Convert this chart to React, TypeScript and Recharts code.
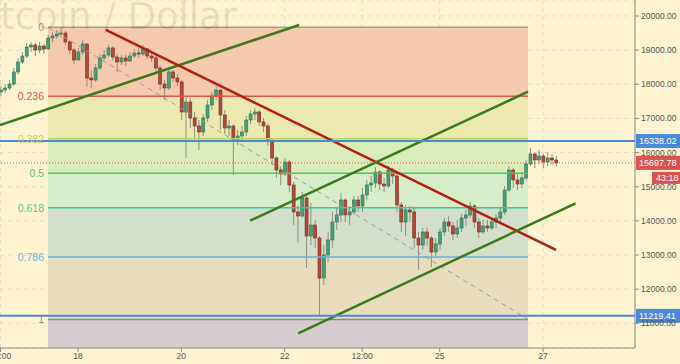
import {
  ComposedChart,
  Bar,
  XAxis,
  YAxis,
  CartesianGrid,
  ReferenceLine,
  ReferenceArea,
} from 'recharts'

// 2h candles, time in days of the month
const START_DAY = 16.5
const CANDLE_DAYS = 1 / 12
const FIRST_OPEN = 17774

const CLOSES = [
  17833, 17891, 18008, 18360, 18653, 18828, 19092, 19150, 19004, 19121,
  19033, 19355, 19414, 19472, 19502, 19238, 19004, 18711, 18945, 19180,
  18184, 18126, 18477, 18770, 18858, 19063, 18799, 18653, 18770, 18682,
  18828, 18916, 18887, 19033, 18828, 18770, 18477, 18008, 17891, 18360,
  18184, 18067, 17189, 17481, 17013, 16779, 16603, 17013, 17394, 17657,
  17833, 17101, 16720, 16779, 16369, 16486, 16603, 16954, 17130, 17189,
  16896, 16779, 16369, 15842, 15490, 15373, 15725, 15051, 14261, 14144,
  14671, 13558, 13880, 13499, 12328, 13002, 13441, 13968, 14173, 14612,
  14173, 14261, 14612, 14436, 14758, 15051, 15110, 15432, 15080, 15022,
  15490, 15315, 14466, 13968, 14319, 14261, 13499, 13294, 13675, 13499,
  13089, 13324, 13675, 13968, 13851, 13617, 13792, 14085, 14173, 14436,
  13968, 13675, 13851, 13792, 13968, 14085, 14261, 14905, 15490, 15198,
  15080, 15256, 15666, 15959, 15783, 15900, 15725, 15842, 15783, 15697.78,
]

const HIGHS = [
  17950, 18008, 18126, 18477, 18770, 18945, 19209, 19238, 19209, 19238,
  19180, 19443, 19531, 19590, 19678, 19560, 19297, 19063, 19063, 19297,
  19180, 18418, 18594, 18887, 19004, 19150, 19121, 18887, 18858, 18858,
  18945, 19033, 19063, 19150, 19063, 18945, 18858, 18535, 18126, 18477,
  18418, 18301, 18126, 17657, 17599, 17189, 16954, 17130, 17540, 17774,
  17950, 17833, 17247, 16954, 16837, 16662, 16779, 17071, 17247, 17306,
  17247, 17013, 16837, 16427, 15900, 15607, 15842, 15783, 15139, 14466,
  14846, 14729, 14524, 14026, 13558, 13294, 13675, 14261, 14378, 14817,
  14671, 14436, 14729, 14729, 14963, 15198, 15315, 15578, 15490, 15256,
  15607, 15549, 15373, 14553, 14466, 14436, 14378, 13675, 13792, 13792,
  13558, 13499, 13792, 14085, 14144, 13968, 14026, 14202, 14319, 14553,
  14495, 14085, 14026, 14026, 14085, 14202, 14378, 15022, 15607, 15549,
  15373, 15432, 15783, 16135, 16017, 16076, 15959, 16017, 15959, 15900,
]

const LOWS = [
  17657, 17745, 17833, 17950, 18272, 18594, 18770, 18945, 18828, 18916,
  18887, 19004, 19238, 19326, 19355, 19150, 18887, 18594, 18770, 18858,
  17921, 17891, 18067, 18418, 18711, 18799, 18711, 18360, 18565, 18535,
  18653, 18770, 18770, 18828, 18740, 18653, 18360, 17833, 17540, 17833,
  18067, 17950, 16954, 15842, 16720, 16427, 16076, 16486, 16896, 17247,
  17540, 16662, 16544, 16486, 15344, 16222, 16369, 16486, 16837, 16954,
  16779, 16603, 16193, 15637, 15256, 15051, 15315, 14846, 13880, 13353,
  14085, 12621, 13294, 13207, 11219, 12123, 12797, 13207, 13734, 13968,
  13968, 13880, 14173, 14261, 14261, 14612, 14846, 14963, 14905, 14846,
  14963, 15080, 14261, 13675, 13558, 13968, 13207, 12562, 13148, 13265,
  12650, 12972, 13148, 13558, 13675, 13441, 13499, 13675, 13851, 14085,
  13792, 13499, 13617, 13675, 13734, 13792, 13968, 14173, 14846, 14963,
  14905, 14963, 15198, 15607, 15549, 15666, 15549, 15607, 15637, 15607,
]

const X_DOMAIN = [16.49, 28.78]
const Y_DOMAIN = [10278, 20468]
const X_TICKS = [16.5, 18, 20, 22, 23.5, 25, 27]
const Y_TICKS = [11000, 12000, 13000, 14000, 15000, 16000, 17000, 18000, 19000, 20000]

// fibonacci retracement
const FIB_START = 17.42
const FIB_END = 26.71
const FIB_RATIOS = ['0', '0.236', '0.382', '0.5', '0.618', '0.786', '1']
const FIB_PRICES = [19670, 17651, 16402, 15392, 14383, 12946, 11115]

// drawn trend lines, [day, price]
const TREND_UPPER_LEFT = [[16.49, 16808], [22.28, 19736]]
const TREND_RED = [[18.54, 19590], [27.25, 13148]]
const CHANNEL_UPPER = [[21.33, 14006], [26.71, 17783]]
const CHANNEL_LOWER = [[22.26, 10709], [27.63, 14515]]
const FIB_DIAGONAL = [[FIB_START, 19670], [FIB_END, 11115]]

const LEVEL_HIGH = 16338.02
const LEVEL_LOW = 11219.41
const LAST_PRICE = 15697.78
const COUNTDOWN = '43:18'

const FIB_LINE_COLORS = ['#a39d92', '#e2574b', '#b9d760', '#52c45a', '#3fc9a2', '#66b3dc', '#8c8a88']
const FIB_BAND_COLORS = ['#f5c9ab', '#ebe9b0', '#dbecbb', '#d7ecc9', '#d4dfcb', '#e8dcbf']
const BELOW_BAND = '#d6ccd0'
const BG = '#fff4d2'
const FONT = '"Liberation Sans", Arial, sans-serif'

const candles = CLOSES.map((close, i) => ({
  time: START_DAY + i * CANDLE_DAYS,
  open: i === 0 ? FIRST_OPEN : CLOSES[i - 1],
  close,
  high: HIGHS[i],
  low: LOWS[i],
}))

const seg = (pts: number[][]) => pts.map(([x, y]) => ({ x, y }))

function Candle(props: any) {
  const { x, y, width, height, payload } = props
  if (!payload) return null
  const top = Math.min(y, y + height)
  const bottom = Math.max(y, y + height)
  const span = payload.high - payload.low
  const toY = (v: number) => (span === 0 ? top : top + ((payload.high - v) / span) * (bottom - top))
  const cx = x + width / 2
  const yo = toY(payload.open)
  const yc = toY(payload.close)
  const up = payload.close >= payload.open
  return (
    <g>
      <line x1={cx} x2={cx} y1={top} y2={bottom} stroke="#8f8f86" strokeWidth={1} />
      <rect
        x={cx - 1.5}
        y={Math.min(yo, yc)}
        width={3}
        height={Math.max(1, Math.abs(yo - yc))}
        fill={up ? '#47a078' : '#b4483a'}
        stroke={up ? '#2f6f52' : '#7d2c22'}
        strokeWidth={0.6}
      />
    </g>
  )
}

const priceTag = (text: string, color: string, extra?: string) => (props: any) => {
  const vb = props.viewBox
  if (!vb) return null
  const x = vb.x + vb.width
  const y = vb.y
  return (
    <g>
      <rect x={x + 1} y={y - 7} width={44} height={14} fill={color} />
      <text x={x + 4} y={y} dominantBaseline="central" fill="#fff" fontSize={9} fontFamily={FONT}>
        {text}
      </text>
      {extra && (
        <>
          <rect x={x + 17} y={y + 9} width={28} height={12} fill={color} />
          <text x={x + 21} y={y + 15} dominantBaseline="central" fill="#fff" fontSize={9} fontFamily={FONT}>
            {extra}
          </text>
        </>
      )}
    </g>
  )
}

export default function App() {
  return (
    <div style={{ position: 'fixed', left: 0, top: 0, width: 680, height: 364, background: BG, fontFamily: FONT }}>
      <ComposedChart width={680} height={364} data={candles} margin={{ top: 0, right: 0, bottom: 0, left: 0 }}>
        <CartesianGrid strokeDasharray="4 4" stroke="#e4dcc6" />
        {FIB_BAND_COLORS.map((c, i) => (
          <ReferenceArea
            key={'band' + i}
            x1={FIB_START}
            x2={FIB_END}
            y1={FIB_PRICES[i + 1]}
            y2={FIB_PRICES[i]}
            fill={c}
            fillOpacity={1}
            strokeWidth={0}
            ifOverflow="hidden"
          />
        ))}
        <ReferenceArea
          x1={FIB_START}
          x2={FIB_END}
          y1={Y_DOMAIN[0]}
          y2={FIB_PRICES[6]}
          fill={BELOW_BAND}
          fillOpacity={1}
          strokeWidth={0}
          ifOverflow="hidden"
        />
        <XAxis
          type="number"
          dataKey="time"
          domain={X_DOMAIN}
          ticks={X_TICKS}
          interval={0}
          allowDataOverflow
          height={16}
          tickFormatter={(v: number) => (Number.isInteger(v) ? String(v) : '12:00')}
          tick={{ fontSize: 8.5, fill: '#555' }}
          tickSize={4}
          tickMargin={1}
          stroke="#8a8a8a"
        />
        <YAxis
          orientation="right"
          domain={Y_DOMAIN}
          ticks={Y_TICKS}
          allowDataOverflow
          width={45}
          tickFormatter={(v: number) => v.toFixed(2)}
          tick={{ fontSize: 8.5, fill: '#555' }}
          tickSize={4}
          tickMargin={2}
          stroke="#8a8a8a"
        />
        {FIB_PRICES.map((p, i) => (
          <ReferenceLine
            key={'fib' + i}
            segment={[{ x: FIB_START, y: p }, { x: FIB_END, y: p }]}
            stroke={FIB_LINE_COLORS[i]}
            strokeWidth={1.5}
            ifOverflow="visible"
            label={{ value: FIB_RATIOS[i], position: 'left', offset: 4, fill: FIB_LINE_COLORS[i], fontSize: 10.5, fontFamily: FONT }}
          />
        ))}
        <ReferenceLine segment={seg(FIB_DIAGONAL)} stroke="#9a9a96" strokeDasharray="5 4" ifOverflow="hidden" />
        <Bar dataKey={(d: any) => [d.low, d.high]} barSize={3} shape={<Candle />} isAnimationActive={false} />
        <ReferenceLine segment={seg(TREND_UPPER_LEFT)} stroke="#3d7a1c" strokeWidth={2.5} ifOverflow="hidden" />
        <ReferenceLine segment={seg(TREND_RED)} stroke="#b21f10" strokeWidth={2.5} ifOverflow="hidden" />
        <ReferenceLine segment={seg(CHANNEL_UPPER)} stroke="#3d7a1c" strokeWidth={2.5} ifOverflow="hidden" />
        <ReferenceLine segment={seg(CHANNEL_LOWER)} stroke="#3d7a1c" strokeWidth={2.5} ifOverflow="hidden" />
        <ReferenceLine
          y={LAST_PRICE}
          stroke="#d9534f"
          strokeDasharray="1 2"
          label={{ content: priceTag(LAST_PRICE.toFixed(2), '#d9534f', COUNTDOWN) }}
        />
        <ReferenceLine
          y={LEVEL_HIGH}
          stroke="#4a88d8"
          strokeWidth={2}
          label={{ content: priceTag(LEVEL_HIGH.toFixed(2), '#4a88d8') }}
        />
        <ReferenceLine
          y={LEVEL_LOW}
          stroke="#4a88d8"
          strokeWidth={2}
          label={{ content: priceTag(LEVEL_LOW.toFixed(2), '#4a88d8') }}
        />
      </ComposedChart>
      <svg width={680} height={364} style={{ position: 'absolute', left: 0, top: 0, pointerEvents: 'none' }}>
        <text x={237} y={29} textAnchor="end" fontSize={37} fontFamily='"DejaVu Sans", sans-serif' fill="#000" fillOpacity={0.1}>
          Bitcoin / Dollar
        </text>
      </svg>
    </div>
  )
}
